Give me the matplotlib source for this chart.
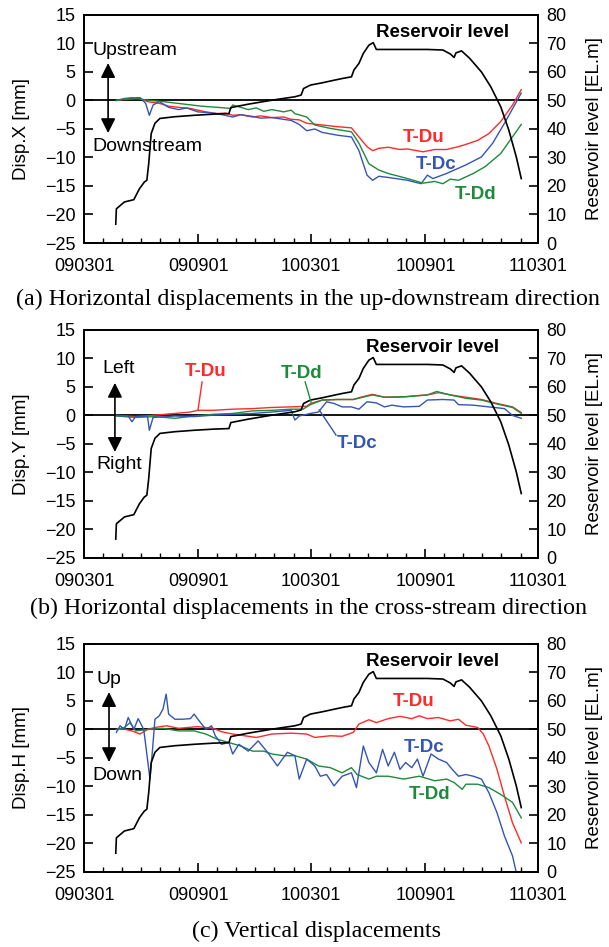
import pandas as pd
import matplotlib
matplotlib.use('Agg')
import matplotlib.pyplot as plt
import matplotlib.dates as mdates

plt.rcParams['font.family'] = ['Liberation Sans', 'DejaVu Sans']

# Reservoir level [EL.m] (same record in all three panels)
res_date = ['090421', '090422', '090505', '090520', '090525', '090529', '090606', '090610',
            '090613', '090617', '090623', '090701', '090725', '090825', '090925', '091020',
            '091023', '091120', '091228', '100203', '100213', '100217', '100228', '100319',
            '100407', '100420', '100505', '100509', '100517', '100524', '100602', '100609',
            '100614', '100703', '100904', '100929', '101011', '101017', '101020', '101029',
            '101111', '101130', '101215', '101231', '110113', '110125', '110202']
res_level = [6.6, 12.0, 14.4, 15.2, 17.3, 19.0, 21.4, 22.0,
             27.9, 38.4, 42.0, 43.7, 44.3, 44.8, 45.2, 45.4,
             47.5, 48.7, 50.1, 51.3, 51.9, 54.2, 55.4, 56.2,
             57.1, 57.7, 58.3, 60.7, 63.0, 66.5, 69.4, 70.3,
             67.9, 67.9, 67.9, 67.7, 66.3, 65.1, 66.7, 67.4,
             64.8, 60.0, 54.8, 47.8, 39.6, 30.2, 22.6]

# (a) Disp.X [mm]
a_du_date = ['090422', '090505', '090530', '090611', '090630', '090715', '090731', '090819',
             '090831', '090913', '091001', '091014', '091026', '091108', '091127', '091210',
             '091228', '100116', '100128', '100210', '100222', '100319', '100413', '100505',
             '100517', '100530', '100608', '100618', '100703', '100722', '100803', '100828',
             '100916', '101005', '101024', '101105', '101124', '101212', '101231', '110119',
             '110202']
a_du = [0.0, 0.2, 0.35, -0.2, -0.5, -1.0, -1.2, -1.4,
        -1.7, -2.0, -2.3, -2.2, -2.6, -2.5, -2.9, -2.7,
        -3.0, -2.9, -3.3, -3.4, -4.0, -4.3, -4.6, -4.8,
        -6.4, -8.1, -8.8, -8.4, -8.2, -8.6, -8.5, -9.0,
        -8.6, -8.6, -8.1, -7.7, -7.0, -5.8, -3.7, -0.8,
        1.9]
a_dc_date = ['090422', '090505', '090530', '090608', '090614', '090620', '090630', '090715',
             '090731', '090813', '090831', '090913', '091001', '091026', '091108', '091127',
             '091210', '091228', '100128', '100210', '100222', '100307', '100319', '100413',
             '100505', '100517', '100530', '100608', '100618', '100703', '100803', '100825',
             '100904', '100913', '101005', '101105', '101130', '101218', '110106', '110202']
a_dc = [0.0, 0.35, 0.5, -0.5, -2.6, -0.8, -0.2, -1.2,
        -1.6, -1.3, -2.0, -2.1, -2.3, -2.9, -2.5, -2.8,
        -3.1, -3.0, -3.5, -4.2, -5.3, -5.0, -5.6, -6.1,
        -6.4, -8.8, -13.1, -14.0, -13.3, -13.5, -14.0, -14.6,
        -13.1, -13.7, -12.8, -11.3, -9.9, -7.5, -4.0, 1.3]
a_dd_date = ['090422', '090517', '090611', '090706', '090806', '090906', '091001', '091023',
             '091026', '091108', '091120', '091203', '091215', '091228', '100116', '100128',
             '100203', '100222', '100307', '100401', '100505', '100517', '100602', '100618',
             '100703', '100803', '100828', '100916', '100929', '101011', '101024', '101117',
             '101206', '101231', '110202']
a_dd = [0.0, 0.5, 0.05, -0.2, -0.6, -1.0, -1.2, -1.4,
        -0.8, -1.2, -1.6, -1.3, -1.9, -1.6, -2.0, -1.7,
        -2.3, -2.9, -4.3, -4.9, -5.5, -7.5, -11.1, -12.2,
        -12.8, -13.7, -14.5, -14.2, -14.6, -13.8, -14.0, -12.8,
        -11.6, -9.3, -4.2]

# (b) Disp.Y [mm]
b_du_date = ['090422', '090523', '090623', '090725', '090819', '090831', '090925', '091026',
             '091127', '091228', '100128', '100222', '100228', '100319', '100413', '100508',
             '100520', '100608', '100627', '100722', '100810', '100904', '100922', '101011',
             '101105', '101130', '101225', '110119', '110202']
b_du = [0.0, -0.2, 0.05, 0.35, 0.6, 0.9, 0.9, 1.1,
        1.2, 1.4, 1.5, 1.6, 2.1, 2.7, 2.8, 2.8,
        3.2, 3.7, 3.2, 3.2, 3.4, 3.6, 4.0, 3.6,
        3.2, 2.8, 2.1, 1.5, 0.5]
b_dd_date = ['090422', '090523', '090623', '090725', '090825', '090925', '091026', '091127',
             '091228', '100128', '100216', '100228', '100319', '100413', '100508', '100608',
             '100627', '100803', '100904', '100919', '101011', '101105', '101130', '101225',
             '110119', '110202']
b_dd = [-0.1, -0.35, -0.2, -0.5, -0.1, 0.2, 0.35, 0.8,
        0.9, 1.1, 1.1, 1.9, 2.7, 2.8, 2.8, 3.6,
        3.2, 3.3, 3.6, 4.2, 3.6, 3.0, 2.7, 2.0,
        1.4, 0.35]
b_dc_date = ['090422', '090511', '090517', '090523', '090611', '090614', '090620', '090725',
             '090825', '090925', '091026', '091127', '091228', '100128', '100203', '100210',
             '100228', '100313', '100326', '100407', '100420', '100505', '100517', '100530',
             '100614', '100627', '100709', '100728', '100822', '100904', '100929', '101017',
             '101024', '101117', '101212', '110106', '110119', '110202']
b_dc = [0.0, -0.1, -1.1, -0.2, -0.1, -2.6, -0.35, -0.1,
        -0.2, 0.05, 0.2, 0.35, 0.6, 0.9, -0.8, -0.1,
        0.35, 0.6, 2.4, 2.1, 1.5, 1.5, 1.1, 2.4,
        2.2, 1.5, 1.8, 1.5, 1.6, 2.7, 2.8, 2.7,
        1.9, 1.8, 1.5, 1.2, 0.0, -0.5]

# (c) Disp.H [mm]
c_du_date = ['090422', '090505', '090517', '090530', '090611', '090623', '090712', '090731',
             '090831', '090925', '091008', '091026', '091114', '091203', '091228', '100128',
             '100222', '100307', '100401', '100420', '100508', '100517', '100602', '100614',
             '100703', '100722', '100810', '100822', '100904', '100922', '101011', '101024',
             '101105', '101124', '101203', '101212', '101225', '110106', '110119', '110202']
c_du = [0.0, 0.05, -0.25, -0.8, 0.0, 0.35, 0.65, 0.2,
        0.5, 0.2, -0.4, -0.8, -1.1, -1.4, -0.8, -0.65,
        -0.8, -1.4, -1.1, -1.2, -0.5, 0.95, 1.7, 1.2,
        1.9, 2.3, 1.9, 2.4, 1.9, 2.1, 1.5, 1.8,
        0.75, 0.35, -0.8, -2.9, -7.0, -11.7, -16.4, -19.9]
c_dc_date = ['090422', '090428', '090505', '090511', '090520', '090527', '090605', '090611',
             '090615', '090619', '090623', '090630', '090706', '090711', '090715', '090725',
             '090806', '090819', '090825', '090831', '090913', '090922', '090928', '091008',
             '091020', '091026', '091105', '091120', '091206', '091221', '100106', '100122',
             '100203', '100210', '100222', '100307', '100316', '100326', '100407', '100420',
             '100505', '100513', '100524', '100602', '100614', '100624', '100703', '100713',
             '100722', '100731', '100810', '100819', '100828', '100910', '100922', '101005',
             '101014', '101024', '101105', '101117', '101130', '101212', '101225', '110106',
             '110119', '110125']
c_dc = [-0.5, 0.65, 0.0, 2.1, 0.0, 1.9, 0.0, -5.2,
        -8.7, -3.7, 1.8, 2.4, 3.6, 6.2, 2.7, 1.8,
        1.8, 1.9, 2.7, 1.8, 0.0, 0.65, -1.1, -2.6,
        -2.3, -4.3, -2.6, -3.8, -2.0, -4.0, -6.4, -4.0,
        -4.6, -8.7, -5.2, -6.4, -8.2, -7.9, -9.9, -8.2,
        -7.6, -10.2, -2.9, -5.8, -7.6, -3.5, -6.4, -4.0,
        -7.0, -5.8, -6.7, -5.2, -8.2, -4.3, -5.2, -5.8,
        -7.0, -8.2, -7.9, -8.2, -8.7, -11.1, -14.6, -18.7,
        -22.2, -25.1]
c_dd_date = ['090422', '090505', '090514', '090523', '090611', '090706', '090731', '090825',
             '090913', '091001', '091020', '091108', '091127', '091215', '091228', '100116',
             '100203', '100222', '100313', '100401', '100420', '100505', '100514', '100602',
             '100614', '100703', '100728', '100822', '100916', '101005', '101017', '101030',
             '101105', '101124', '101212', '101231', '110119', '110202']
c_dd = [0.0, 0.35, 1.2, -0.25, 0.0, 0.2, -0.25, -0.25,
        -0.8, -1.7, -2.3, -2.9, -3.8, -3.8, -4.3, -4.6,
        -4.6, -5.2, -6.4, -6.7, -7.6, -6.7, -7.9, -8.7,
        -8.2, -8.2, -8.7, -8.2, -9.0, -8.7, -9.3, -10.5,
        -9.6, -9.6, -10.2, -11.4, -12.8, -15.5]

RED = '#ff2a2a'
BLUE = '#3355b5'
GREEN = '#1e8a3c'
FS = 13


def d(lst):
    return pd.to_datetime(lst, format='%y%m%d')


def setup_panel(ax, ylabel):
    ax.set_xlim(pd.Timestamp('2009-03-01'), pd.Timestamp('2011-03-01'))
    ax.set_ylim(-25, 15)
    ax.set_yticks(range(-25, 16, 5))
    ax.xaxis.set_major_locator(mdates.MonthLocator(bymonth=[3, 9]))
    ax.xaxis.set_minor_locator(mdates.MonthLocator())
    ax.xaxis.set_major_formatter(mdates.DateFormatter('%y%m%d'))
    ax.tick_params(which='major', direction='in', length=6.5, width=1.2, labelsize=FS, pad=6)
    ax.tick_params(which='minor', direction='in', length=3.5, width=1.0)
    ax.tick_params(axis='x', which='both', top=False, pad=11)
    ax.set_ylabel(ylabel, fontsize=13.5)
    ax.yaxis.set_label_coords(-0.12, 0.5)
    for s in ax.spines.values():
        s.set_linewidth(1.3)
    ax.axhline(0, color='black', lw=1.3, zorder=1)


def add_res(ax):
    ax2 = ax.twinx()
    ax2.plot(d(res_date), res_level, color='black', lw=1.2)
    ax2.set_ylim(0, 80)
    ax2.set_yticks(range(0, 81, 10))
    ax2.tick_params(direction='in', length=6.5, width=1.2, labelsize=FS, pad=6)
    ax2.set_ylabel('Reservoir level [EL.m]', fontsize=13.5)
    ax2.yaxis.set_label_coords(1.105, 0.5)
    for s in ax2.spines.values():
        s.set_linewidth(1.3)
    return ax2


def arrow(ax, x, y0, y1):
    ax.annotate('', xy=(x, y0), xytext=(x, y1), xycoords='axes fraction',
                arrowprops=dict(arrowstyle='<|-|>', color='black', lw=1.2,
                                mutation_scale=22, shrinkA=0, shrinkB=0))


fig = plt.figure(figsize=(6.09, 9.47), dpi=100)
L, W, H = 0.138, 0.7455, 0.2408
axa = fig.add_axes([L, 0.7434, W, H])
axb = fig.add_axes([L, 0.4108, W, H])
axc = fig.add_axes([L, 0.0792, W, H])

lw = 1.0
lab = dict(fontsize=13.5, fontweight='bold', ha='center', va='center')
txt = dict(fontsize=14, va='center')

# ---- (a)
setup_panel(axa, 'Disp.X [mm]')
axa.plot(d(a_du_date), a_du, color=RED, lw=lw)
axa.plot(d(a_dc_date), a_dc, color=BLUE, lw=lw)
axa.plot(d(a_dd_date), a_dd, color=GREEN, lw=lw)
ra = add_res(axa)
ra.text(0.789, 0.925, 'Reservoir level', transform=axa.transAxes, **lab)
ra.text(0.747, 0.461, 'T-Du', color=RED, transform=axa.transAxes, **lab)
ra.text(0.775, 0.346, 'T-Dc', color=BLUE, transform=axa.transAxes, **lab)
ra.text(0.863, 0.211, 'T-Dd', color=GREEN, transform=axa.transAxes, **lab)
ra.text(0.018, 0.846, 'Upstream', transform=axa.transAxes, **txt)
ra.text(0.018, 0.425, 'Downstream', transform=axa.transAxes, **txt)
arrow(ra, 0.053, 0.789, 0.482)

# ---- (b)
setup_panel(axb, 'Disp.Y [mm]')
axb.plot(d(b_du_date), b_du, color=RED, lw=lw)
axb.plot(d(b_dd_date), b_dd, color=GREEN, lw=lw)
axb.plot(d(b_dc_date), b_dc, color=BLUE, lw=lw)
rb = add_res(axb)
rb.text(0.767, 0.925, 'Reservoir level', transform=axb.transAxes, **lab)
rb.text(0.267, 0.816, 'T-Du', color=RED, transform=axb.transAxes, **lab)
rb.text(0.480, 0.811, 'T-Dd', color=GREEN, transform=axb.transAxes, **lab)
rb.text(0.601, 0.504, 'T-Dc', color=BLUE, transform=axb.transAxes, **lab)
for (x0, y0, x1, y1, c) in [(0.260, 0.772, 0.251, 0.649, RED),
                            (0.487, 0.772, 0.500, 0.684, GREEN),
                            (0.555, 0.539, 0.518, 0.649, BLUE)]:
    rb.plot([x0, x1], [y0, y1], color=c, lw=1.0, transform=axb.transAxes)
rb.text(0.040, 0.833, 'Left', transform=axb.transAxes, **txt)
rb.text(0.027, 0.408, 'Right', transform=axb.transAxes, **txt)
arrow(rb, 0.068, 0.768, 0.465)

# ---- (c)
setup_panel(axc, 'Disp.H [mm]')
axc.plot(d(c_du_date), c_du, color=RED, lw=lw)
axc.plot(d(c_dd_date), c_dd, color=GREEN, lw=lw)
axc.plot(d(c_dc_date), c_dc, color=BLUE, lw=lw)
rc = add_res(axc)
rc.text(0.767, 0.921, 'Reservoir level', transform=axc.transAxes, **lab)
rc.text(0.725, 0.746, 'T-Du', color=RED, transform=axc.transAxes, **lab)
rc.text(0.749, 0.548, 'T-Dc', color=BLUE, transform=axc.transAxes, **lab)
rc.text(0.760, 0.338, 'T-Dd', color=GREEN, transform=axc.transAxes, **lab)
rc.text(0.027, 0.842, 'Up', transform=axc.transAxes, **txt)
rc.text(0.018, 0.425, 'Down', transform=axc.transAxes, **txt)
arrow(rc, 0.055, 0.789, 0.482)

cap = dict(ha='center', va='center', fontsize=17.3, family='Liberation Serif')
fig.text(0.506, 0.684, '(a) Horizontal displacements in the up-downstream direction', **cap)
fig.text(0.506, 0.358, '(b) Horizontal displacements in the cross-stream direction', **cap)
fig.text(0.52, 0.016, '(c) Vertical displacements', **cap)

fig.savefig('out.png', dpi=100)
